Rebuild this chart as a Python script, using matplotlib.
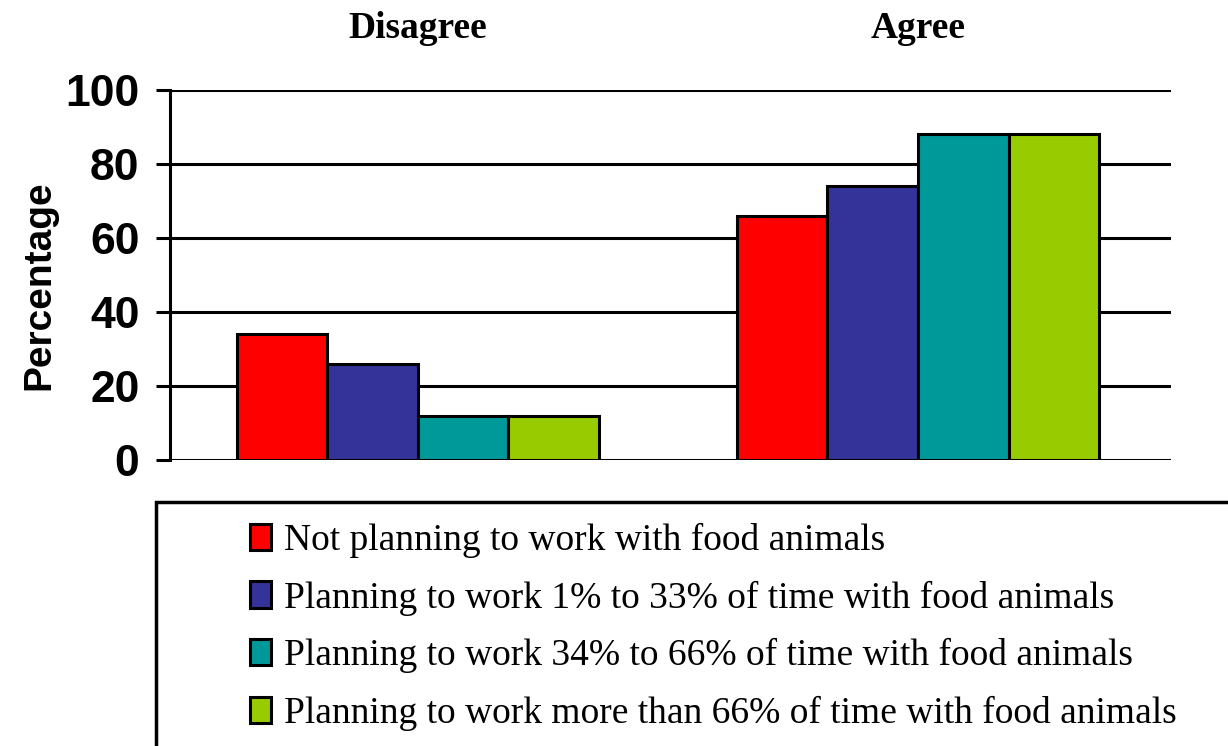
import matplotlib.pyplot as plt
import matplotlib.patches as mpatches
import numpy as np

# data
categories = ['Disagree', 'Agree']
series_names = ['Not planning to work with food animals',
                'Planning to work 1% to 33% of time with food animals',
                'Planning to work 34% to 66% of time with food animals',
                'Planning to work more than 66% of time with food animals']
not_planning = [34, 66]
pct_1_33 = [26, 74]
pct_34_66 = [12, 88]
pct_over_66 = [12, 88]
y_ticks = [0, 20, 40, 60, 80, 100]

values = [not_planning, pct_1_33, pct_34_66, pct_over_66]
colors = ['#FF0000', '#333399', '#009999', '#99CC00']

fig = plt.figure(figsize=(12.28, 7.46), dpi=100)
ax = fig.add_axes([0.1384, 0.3834, 0.8152, 0.496])

x = np.arange(len(categories))
w = 0.181
for i, (vals, col, name) in enumerate(zip(values, colors, series_names)):
    ax.bar(x + (i - 1.5) * w, vals, w, color=col, edgecolor='black',
           linewidth=2.2, label=name, zorder=3)

ax.set_xlim(-0.496, 1.506)
ax.set_ylim(0, 100)
ax.set_yticks(y_ticks)
ax.yaxis.grid(True, color='black', linewidth=2.2, zorder=0)
ax.set_axisbelow(True)

for s in ['top', 'right', 'bottom']:
    ax.spines[s].set_visible(False)
ax.spines['left'].set_linewidth(2.2)

ax.tick_params(axis='y', length=10, width=2.2, pad=12)
for lab in ax.get_yticklabels():
    lab.set_fontfamily('Liberation Sans')
    lab.set_fontweight('bold')
    lab.set_fontsize(32)

ax.xaxis.tick_top()
ax.set_xticks(x)
ax.set_xticklabels(categories, fontfamily='Liberation Serif',
                   fontweight='bold', fontsize=27)
ax.tick_params(axis='x', length=0, pad=32)

ax.set_ylabel('Percentage', fontfamily='Liberation Sans', fontweight='bold',
              fontsize=28)
ax.yaxis.set_label_coords(-0.112, 0.473)

# legend box running off the figure edge
box = mpatches.Rectangle((0.127, -0.2), 1.0, 0.527, transform=fig.transFigure,
                         facecolor='white', edgecolor='black', linewidth=2.5,
                         clip_on=False)
fig.patches.append(box)

handles, labels = ax.get_legend_handles_labels()
fig.legend(handles, labels, loc='upper left', bbox_to_anchor=(0.2036, 0.299),
           frameon=False, borderpad=0, borderaxespad=0,
           prop={'family': 'Liberation Serif', 'size': 27},
           handlelength=0.55, handleheight=0.7, handletextpad=0.36,
           labelspacing=0.6)

fig.savefig('out.png', dpi=100)
